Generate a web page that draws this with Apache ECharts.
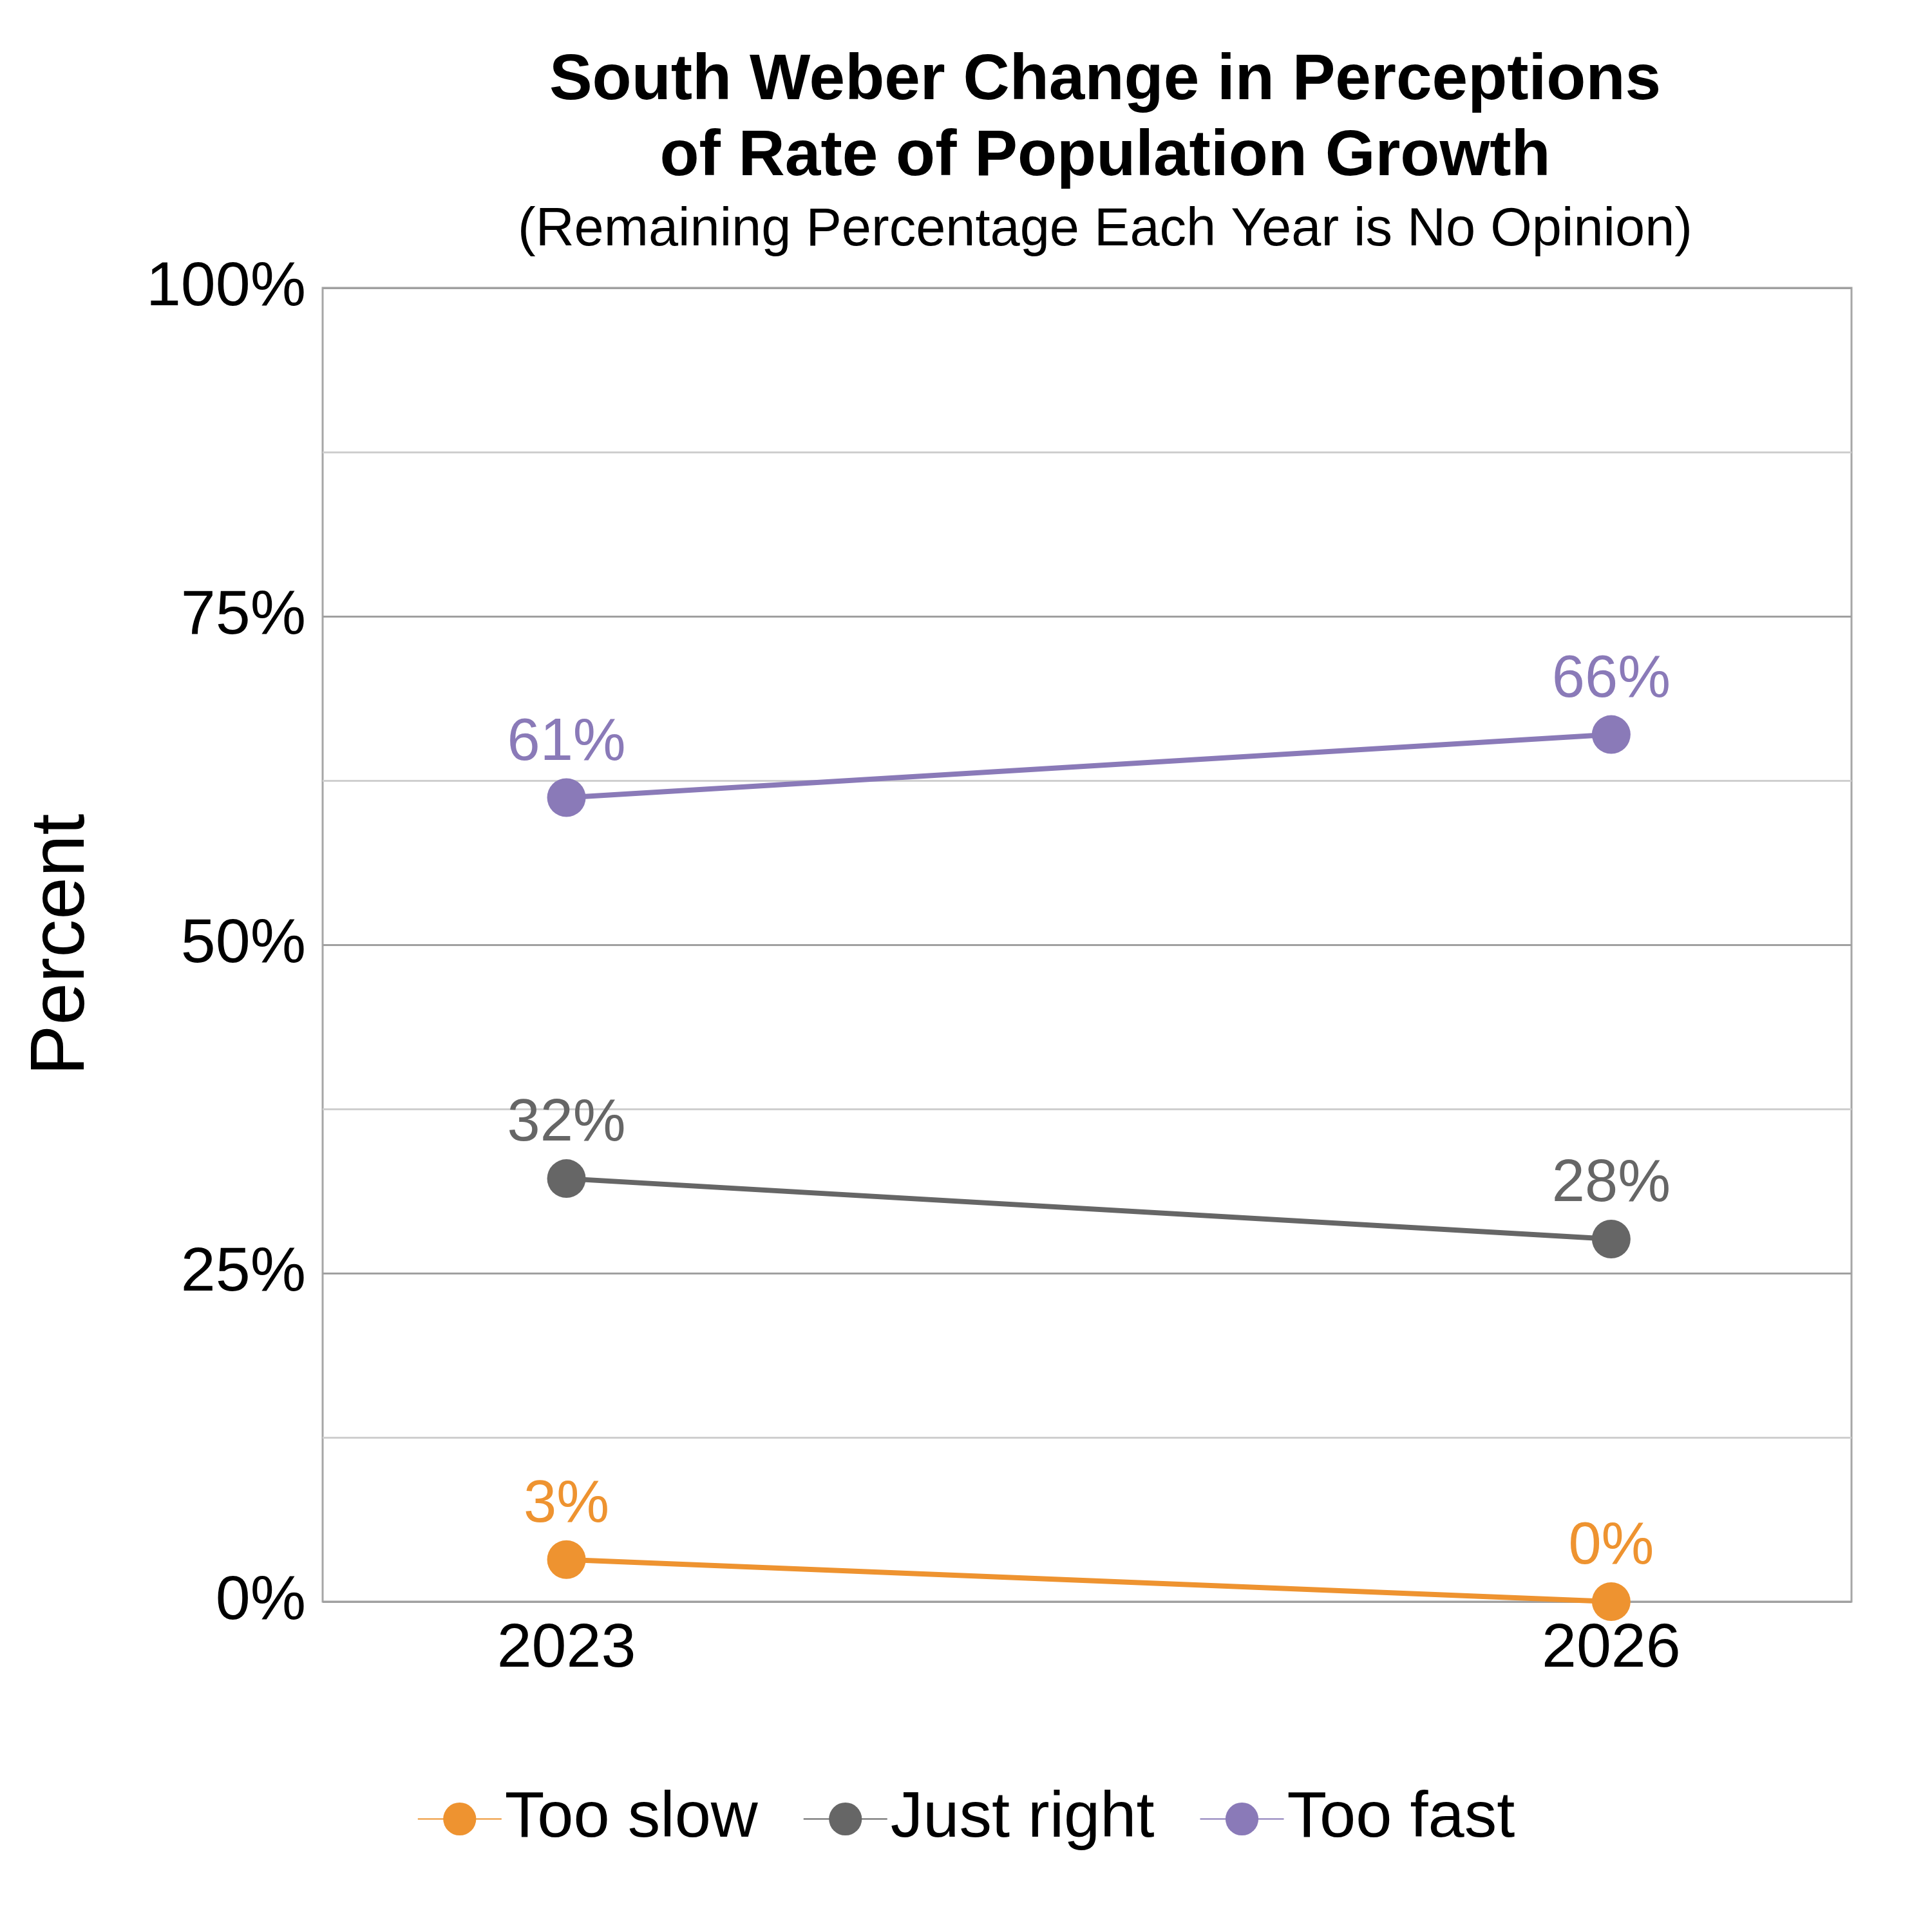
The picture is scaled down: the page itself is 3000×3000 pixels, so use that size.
<!DOCTYPE html>
<html><head><meta charset="utf-8">
<script src="https://cdn.jsdelivr.net/npm/echarts@6/dist/echarts.min.js"></script>
<style>html,body{margin:0;background:#fff}#c{width:3000px;height:3000px}</style>
</head><body><div id="c"></div>
<script>
const years = [2023, 2026];
const seriesNames = ['Too slow', 'Just right', 'Too fast'];
const tooSlow = [3.2, 0];
const justRight = [32.2, 27.6];
const tooFast = [61.2, 66.0];
const yTicks = [0, 25, 50, 75, 100];
const colors = ['#EE9330', '#666666', '#8A7AB8'];
const vals = [tooSlow, justRight, tooFast];
const F = 'Arial, Liberation Sans, sans-serif';
const chart = echarts.init(document.getElementById('c'));
chart.setOption({
  animation: false,
  title: [
    {text: 'South Weber Change in Perceptions\nof Rate of Population Growth', left: 1711, top: 62, textAlign: 'center',
     textStyle: {fontFamily: F, fontSize: 100, fontWeight: 'bold', color: '#000', lineHeight: 118}},
    {text: '(Remaining Percentage Each Year is No Opinion)', left: 1711, top: 312, textAlign: 'center',
     textStyle: {fontFamily: F, fontSize: 83, fontWeight: 'normal', color: '#000'}}
  ],
  grid: {left: 501, right: 125, top: 447, bottom: 513, show: true, borderColor: '#a6a6a6', borderWidth: 3},
  xAxis: {type: 'value', min: 2022.30, max: 2026.69,
    axisLine: {show: false}, axisTick: {show: false}, splitLine: {show: false},
    axisLabel: {customValues: years, formatter: v => String(v), fontFamily: F, fontSize: 97, color: '#000', margin: 26}},
  yAxis: {type: 'value', min: 0, max: 100, interval: 12.5,
    name: 'Percent', nameLocation: 'middle', nameGap: 345, nameRotate: 90,
    nameTextStyle: {fontFamily: F, fontSize: 118, color: '#000'},
    axisLine: {show: false}, axisTick: {show: false},
    splitLine: {lineStyle: {color: ['#a0a0a0', '#cfcfcf'], width: 3}},
    axisLabel: {fontFamily: F, fontSize: 97, color: '#000', margin: 26,
      formatter: v => yTicks.includes(v) ? v + '%' : ''}},
  legend: {bottom: 120, left: 'center', itemWidth: 130, itemHeight: 64, itemGap: 70,
    textStyle: {fontFamily: F, fontSize: 101, color: '#000'}, data: seriesNames},
  series: seriesNames.map((n, i) => ({
    name: n, type: 'line', color: colors[i], symbol: 'circle', symbolSize: 60,
    lineStyle: {width: 8, color: colors[i]}, itemStyle: {color: colors[i]},
    data: years.map((y, j) => [y, vals[i][j]]),
    label: {show: true, position: 'top', distance: 8, fontFamily: F, fontSize: 92, color: colors[i],
      formatter: p => Math.round(p.value[1]) + '%'}
  }))
});
</script></body></html>
